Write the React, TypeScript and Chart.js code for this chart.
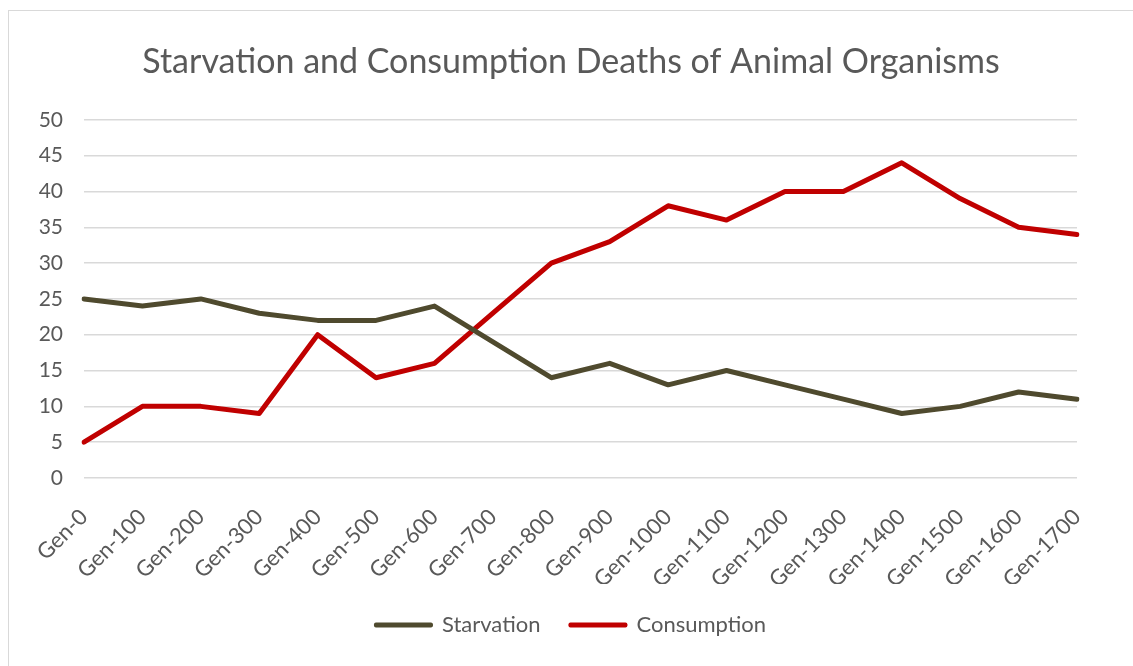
import React, { useEffect, useRef } from "react";
import { Chart, registerables } from "chart.js";

Chart.register(...registerables);

const categories = [
  "Gen-0", "Gen-100", "Gen-200", "Gen-300", "Gen-400", "Gen-500", "Gen-600",
  "Gen-700", "Gen-800", "Gen-900", "Gen-1000", "Gen-1100", "Gen-1200",
  "Gen-1300", "Gen-1400", "Gen-1500", "Gen-1600", "Gen-1700",
];
const starvation = [25, 24, 25, 23, 22, 22, 24, 19, 14, 16, 13, 15, 13, 11, 9, 10, 12, 11];
const consumption = [5, 10, 10, 9, 20, 14, 16, 23, 30, 33, 38, 36, 40, 40, 44, 39, 35, 34];
const titleText = "Starvation and Consumption Deaths of Animal Organisms";

const FONT = "Lato, 'Open Sans', sans-serif";
const GRAY = "#595959";
const STARV = "#4F4A2E";
const CONS = "#C00000";

export default function App() {
  const ref = useRef<HTMLCanvasElement | null>(null);
  useEffect(() => {
    if (!ref.current) return;
    const chart = new Chart(ref.current, {
      type: "line",
      data: {
        labels: categories,
        datasets: [
          {
            label: "Starvation",
            data: starvation,
            borderColor: STARV,
            backgroundColor: STARV,
            borderWidth: 5,
            pointRadius: 0,
            tension: 0,
            borderJoinStyle: "round",
            borderCapStyle: "round",
          },
          {
            label: "Consumption",
            data: consumption,
            borderColor: CONS,
            backgroundColor: CONS,
            borderWidth: 5,
            pointRadius: 0,
            tension: 0,
            borderJoinStyle: "round",
            borderCapStyle: "round",
          },
        ],
      },
      options: {
        animation: false,
        responsive: false,
        maintainAspectRatio: false,
        layout: { padding: { left: 0, right: 0, top: 0, bottom: 20 } },
        plugins: {
          title: {
            display: true,
            text: titleText,
            color: GRAY,
            font: { family: FONT, size: 34, weight: "normal" },
            padding: { top: 31, bottom: 37 },
          },
          legend: {
            position: "bottom",
            labels: {
              color: GRAY,
              font: { family: FONT, size: 22 },
              boxWidth: 55,
              boxHeight: 1,
              padding: 30,
              generateLabels: (c: any) => {
                const items = Chart.defaults.plugins.legend.labels.generateLabels(c);
                return items.map((it: any) => ({ ...it, lineWidth: 4, lineJoin: "round", lineCap: "round" }));
              },
            },
          },
          tooltip: { enabled: false },
        },
        scales: {
          x: {
            offset: false,
            grid: { display: false, drawTicks: false },
            border: { display: false },
            ticks: {
              color: GRAY,
              font: { family: FONT, size: 22 },
              maxRotation: 45,
              minRotation: 45,
              autoSkip: false,
              padding: 26,
            },
            afterFit: (s: any) => { s.height = 106; },
          },
          y: {
            min: 0,
            max: 50,
            grid: { color: "#D9D9D9", lineWidth: 1.5, drawTicks: false },
            border: { display: false },
            ticks: {
              stepSize: 5,
              color: GRAY,
              font: { family: FONT, size: 21 },
              padding: 21,
            },
            afterFit: (s: any) => { s.width = 75; },
          },
          yRight: {
            position: "right",
            display: true,
            grid: { display: false, drawTicks: false },
            border: { display: false },
            ticks: { display: false },
            afterFit: (s: any) => { s.width = 56; },
          },
        },
      },
    });
    return () => chart.destroy();
  }, []);
  return (
    <div
      style={{
        position: "absolute",
        left: 8,
        top: 10,
        width: 1125,
        height: 656,
        borderTop: "1px solid #D9D9D9",
        borderLeft: "1px solid #D9D9D9",
        boxSizing: "border-box",
        background: "#fff",
      }}
    >
      <canvas ref={ref} width={1124} height={655} style={{ display: "block" }} />
    </div>
  );
}
